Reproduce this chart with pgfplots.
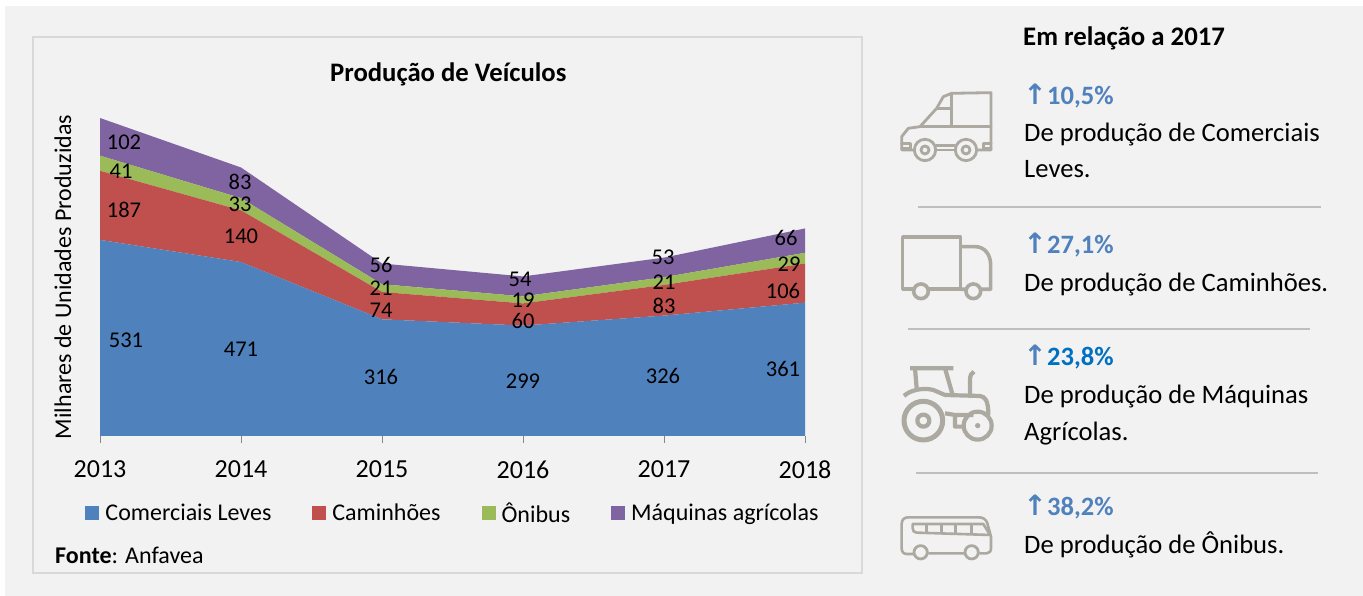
\documentclass[border=0pt]{standalone}
\usepackage{fontspec}
\setmainfont{Carlito}
\newfontfamily\djv{DejaVu Sans}
\usepackage{pgfplots}
\pgfplotsset{compat=1.18}
\definecolor{cBlue}{HTML}{4F81BD}
\definecolor{cRed}{HTML}{C0504D}
\definecolor{cGreen}{HTML}{9BBB59}
\definecolor{cPurple}{HTML}{8064A2}
\definecolor{cDeep}{HTML}{0070C0}
\definecolor{bg}{HTML}{F2F2F2}
\definecolor{ico}{HTML}{ABA9A0}
\definecolor{hr}{HTML}{BFBFBF}
\newcommand{\fs}[1]{\fontsize{#1}{#1}\selectfont}
\newcommand{\lbl}[3]{\node[font=\fs{22.5},inner sep=0pt] at (#1,#2) {#3};}
\newcommand{\txt}[3]{\node[anchor=base west,font=\fs{26.6},inner sep=0pt] at (#1,#2) {#3};}
\newcommand{\pct}[3]{%
  \node[anchor=base,font=\fs{28}\bfseries,inner sep=0pt,text=cBlue] at (1035,#1) {\djv\bfseries ↑};
  \node[anchor=base west,font=\fs{26.5}\bfseries,inner sep=0pt,text=#3] at (1047,#1) {#2};}
\begin{document}
\begin{tikzpicture}[x=1pt,y=1pt]
\useasboundingbox (0,0) rectangle (1363,596);
\fill[white] (0,0) rectangle (1363,596);
\fill[bg] (5,0) rectangle (1363,590);
\draw[draw=black!15,line width=2pt,fill=bg] (33,23) rectangle (862,559);
\begin{axis}[
  at={(100pt,160pt)},anchor=origin,
  scale only axis,width=705pt,height=332.4pt,
  xmin=2013,xmax=2018,ymin=0,ymax=900,
  stack plots=y,
  axis y line=none,axis x line=bottom,
  axis line style={draw=black!47,line width=1pt,-},
  x axis line style={-},
  xtick={2013,2014,2015,2016,2017,2018},
  xticklabel style={/pgf/number format/1000 sep={},/pgf/number format/assume math mode=true,font=\fs{26},yshift=-14pt},
  tick style={draw=black!47,line width=1pt},
  major tick length=7pt,
  tick align=outside,
  title={\bfseries Produção de Veículos},
  title style={font=\fs{26.7},at={(axis description cs:0.494,1.0)},anchor=base,yshift=16pt},
  legend columns=-1,
  legend style={draw=none,fill=none,at={(axis description cs:0.4993,-0.2)},anchor=north,font=\fs{24},
    /tikz/every even column/.append style={column sep=41pt},
    /tikz/every odd column/.append style={column sep=6pt},inner sep=0pt,
    nodes={inner xsep=0pt,inner ysep=0pt}},
  legend image code/.code={\fill[#1] (0pt,-7pt) rectangle (14pt,7pt);},
  legend cell align=left,
]
\addplot[draw=none,fill=cBlue] coordinates {(2013,531)(2014,471)(2015,316)(2016,299)(2017,326)(2018,361)} \closedcycle;
\addplot[draw=none,fill=cRed] coordinates {(2013,187)(2014,140)(2015,74)(2016,60)(2017,83)(2018,106)} \closedcycle;
\addplot[draw=none,fill=cGreen] coordinates {(2013,41)(2014,33)(2015,21)(2016,19)(2017,21)(2018,29)} \closedcycle;
\addplot[draw=none,fill=cPurple] coordinates {(2013,102)(2014,83)(2015,56)(2016,54)(2017,53)(2018,66)} \closedcycle;
\legend{Comerciais Leves,Caminhões,Ônibus,Máquinas agrícolas}
\end{axis}
\begin{scope}[shift={(0,596)},y=-1pt]
\lbl{124}{142}{102}\lbl{121}{171}{41}\lbl{124}{210}{187}\lbl{126}{340}{531}
\lbl{240}{182}{83}\lbl{240}{204}{33}\lbl{241}{236}{140}\lbl{241}{349}{471}
\lbl{381}{265}{56}\lbl{381}{288}{21}\lbl{381}{310}{74}\lbl{381}{377}{316}
\lbl{520}{279}{54}\lbl{523}{300}{19}\lbl{523}{321}{60}\lbl{523}{381}{299}
\lbl{663}{257}{53}\lbl{664}{282}{21}\lbl{664}{306}{83}\lbl{663}{376}{326}
\lbl{786}{238}{66}\lbl{789}{264}{29}\lbl{783}{291}{106}\lbl{783}{369}{361}
\node[rotate=90,font=\fs{24},inner sep=0pt] at (63,277) {Milhares de Unidades Produzidas};
\node[anchor=base west,font=\fs{24},inner sep=0pt] at (55,564) {\textbf{Fonte}: Anfavea};
\node[anchor=base west,font=\fs{26.8}\bfseries,inner sep=0pt] at (1023,46) {Em relação a 2017};
\pct{105}{10,5\%}{cBlue}
\txt{1024}{142}{De produção de Comerciais}
\txt{1024}{178}{Leves.}
\draw[hr,line width=2pt] (918,207)--(1321,207);
\pct{254}{27,1\%}{cBlue}
\txt{1024}{292}{De produção de Caminhões.}
\draw[hr,line width=2pt] (908,329)--(1310,329);
\pct{366}{23,8\%}{cDeep}
\txt{1024}{404}{De produção de Máquinas}
\txt{1024}{441}{Agrícolas.}
\draw[hr,line width=2pt] (916,473)--(1318,473);
\pct{516}{38,2\%}{cBlue}
\txt{1024}{554}{De produção de Ônibus.}
\end{scope}
% van and truck (zoom 1 coordinates)
\begin{scope}[shift={(890,596)},x=0.3333pt,y=-0.3333pt,draw=ico,line width=2.8pt,line join=round,line cap=round]
\draw (72,450)--(35,450)--(35,410)--(55,385)--(90,380)--(140,325)--(160,290)--(185,280)--(303,278)--(303,450)--(265,450);
\draw (140,325)--(185,325) (185,280)--(185,380) (90,380)--(303,380);
\draw (35,430)--(62,430)--(62,445)--(35,445) (303,430)--(280,430)--(280,445)--(303,445);
\draw (138,437)--(195,437) (138,450)--(195,450);
\draw (105,450) circle (32) (105,450) circle (12) (228,450) circle (32) (228,450) circle (12);
\draw[line width=3.6pt] (70,868)--(38,868)--(38,712)--(212,712)--(212,868)--(118,868);
\draw[line width=3.6pt] (212,740)--(255,740)..controls (285,740) and (302,765)..(302,795)--(302,868)--(275,868) (212,868)--(228,868);
\draw[line width=3.6pt] (93,874) circle (22) (250,874) circle (22);
\end{scope}
% tractor and bus (zoom 2 coordinates)
\begin{scope}[shift={(890,296)},x=0.3333pt,y=-0.3333pt,draw=ico,line width=4.2pt,line join=round]
\draw (60,205)--(190,205) (75,205)--(80,265) (165,205)--(188,285);
\draw (42,288)..controls (60,270) and (100,262)..(130,270)--(165,285)--(270,288)..controls (285,290) and (295,300)..(295,345);
\draw (240,285)--(240,240)..controls (240,225) and (245,218)..(252,215);
\draw[line width=5pt] (100,362) circle (58);
\draw (100,362) circle (18);
\draw (263,377) circle (42);
\fill[ico] (263,377) circle (8);
\draw (165,340)--(195,345)--(250,345) (195,345)--(195,380)--(222,380);
\end{scope}
\begin{scope}[shift={(890,296)},x=0.3333pt,y=-0.3333pt,draw=ico,line width=2.6pt,line join=round]
\draw (70,762)--(50,762)..controls (40,762) and (35,755)..(35,745)--(35,672)..controls (35,660) and (42,652)..(55,652)--(265,652)..controls (280,652) and (288,658)..(292,670)--(303,710)--(303,745)..controls (303,755) and (297,760)..(290,760)--(268,760) (115,760)--(222,760);
\draw (68,672)--(280,672)--(300,705)--(80,698)..controls (72,698) and (68,692)..(68,685)--cycle;
\draw (110,672)--(110,698) (155,672)--(155,698) (197,672)--(197,698) (245,672)--(245,702);
\draw[line width=2.8pt] (92,757) circle (20) (245,757) circle (20);
\end{scope}
\end{tikzpicture}
\end{document}
